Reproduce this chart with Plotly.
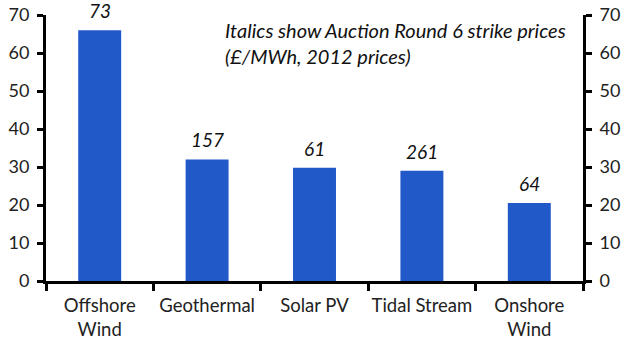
import plotly.graph_objects as go

categories = ["Offshore<br>Wind", "Geothermal", "Solar PV", "Tidal Stream", "Onshore<br>Wind"]
values = [66, 32, 29.8, 29, 20.5]
strike_prices = ["73", "157", "61", "261", "64"]
y_ticks = [0, 10, 20, 30, 40, 50, 60, 70]

FONT = "Lato"

fig = go.Figure()
fig.add_trace(go.Bar(
    x=categories, y=values,
    marker=dict(color="#2159C9", line=dict(width=0)),
    width=0.4,
    showlegend=False,
))
fig.add_trace(go.Scatter(x=categories, y=values, yaxis="y2", mode="markers",
                         marker=dict(opacity=0), showlegend=False, hoverinfo="skip"))

axis_common = dict(range=[0, 70], tickvals=y_ticks, showgrid=False, zeroline=False,
                   showline=True, linecolor="black", linewidth=3, automargin=False,
                   ticks="outside", ticklen=6, tickwidth=3, tickcolor="black",
                   tickfont=dict(family=FONT, size=18, color="#222"))

annotations = [dict(
    x=c, y=v, xref="x", yref="y", yanchor="bottom", yshift=6,
    text="<i>" + s + "</i>", showarrow=False,
    font=dict(family=FONT, size=19, color="#111"),
) for c, v, s in zip(categories, values, strike_prices)]

annotations.append(dict(
    x=0.33, y=0.995, xref="paper", yref="paper", xanchor="left", yanchor="top",
    text="<i>Italics show Auction Round 6 strike prices<br>(£/MWh, 2012 prices)</i>",
    showarrow=False, align="left",
    font=dict(family=FONT, size=20, color="#111"),
))

fig.update_layout(
    width=635, height=362,
    margin=dict(l=46, r=52, t=15, b=81),
    plot_bgcolor="white", paper_bgcolor="white",
    xaxis=dict(showline=True, linecolor="black", linewidth=3, ticks="outside",
               tickson="boundaries", ticklen=7, tickwidth=3, tickcolor="black",
               tickangle=0, automargin=False, ticklabelstandoff=6,
               showgrid=False, tickfont=dict(family=FONT, size=18.5, color="#222")),
    yaxis=dict(side="left", ticklabelstandoff=4, **axis_common),
    yaxis2=dict(side="right", overlaying="y", ticklabelstandoff=4, **axis_common),
    annotations=annotations,
)

fig.write_html("out.html",
               config={"displayModeBar": False},
               post_script="document.body.style.margin='0';document.body.style.overflow='hidden';")
